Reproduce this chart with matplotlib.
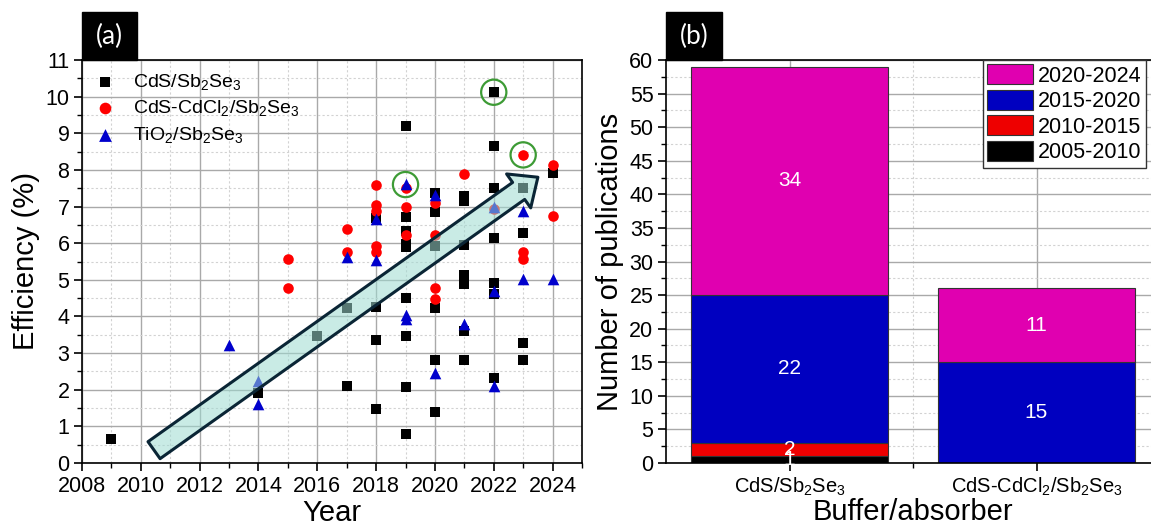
import matplotlib.pyplot as plt
from matplotlib.ticker import MultipleLocator, FixedLocator
from matplotlib.patches import Rectangle

plt.rcParams['font.family'] = 'Liberation Sans'
plt.rcParams['mathtext.fontset'] = 'custom'
plt.rcParams['mathtext.rm'] = 'Liberation Sans'
plt.rcParams['mathtext.default'] = 'regular'

# --- (a) efficiency vs. year for each buffer/absorber stack ---
cds_year = [2009, 2014, 2016, 2017, 2017, 2018, 2018, 2018, 2018,
            2019, 2019, 2019, 2019, 2019, 2019, 2019, 2019, 2019,
            2020, 2020, 2020, 2020, 2020, 2020,
            2021, 2021, 2021, 2021, 2021, 2021, 2021,
            2022, 2022, 2022, 2022, 2022, 2022, 2022,
            2023, 2023, 2023, 2023, 2024]
cds_eff = [0.66, 1.9, 3.47, 4.23, 2.1, 6.7, 4.27, 3.36, 1.48,
           9.2, 6.72, 6.33, 5.98, 5.9, 4.5, 3.47, 2.08, 0.79,
           7.37, 6.86, 5.92, 4.23, 2.8, 1.4,
           7.28, 7.14, 5.95, 5.12, 4.88, 3.59, 2.81,
           10.12, 8.64, 7.5, 6.15, 4.92, 4.6, 2.32,
           7.5, 6.29, 3.28, 2.8, 7.92]

cdcl_year = [2015, 2015, 2017, 2017, 2018, 2018, 2018, 2018, 2018,
             2019, 2019, 2019, 2020, 2020, 2020, 2020, 2021, 2022,
             2023, 2023, 2023, 2024, 2024]
cdcl_eff = [5.58, 4.77, 6.38, 5.75, 7.6, 7.05, 6.88, 5.92, 5.75,
            7.5, 7.0, 6.23, 7.1, 6.23, 4.77, 4.48, 7.88, 6.92,
            8.41, 5.75, 5.58, 8.14, 6.73]

tio2_year = [2013, 2014, 2014, 2017, 2018, 2018, 2019, 2019, 2019,
             2020, 2020, 2021, 2022, 2022, 2022, 2023, 2023, 2024]
tio2_eff = [3.22, 2.25, 1.61, 5.62, 6.65, 5.55, 7.62, 4.05, 3.92,
            7.32, 2.47, 3.8, 7.0, 4.7, 2.1, 6.88, 5.03, 5.03]

# record devices (ringed)
best_year = [2019, 2022, 2023]
best_eff = [7.6, 10.12, 8.41]

# trend arrow end points (year, efficiency)
trend_start = (2010.45, 0.35)
trend_end = (2023.5, 7.8)

# --- (b) publications per stack, split by period ---
stacks = ['CdS/Sb$_2$Se$_3$', 'CdS-CdCl$_2$/Sb$_2$Se$_3$']
periods = ['2005-2010', '2010-2015', '2015-2020', '2020-2024']
n_2005_2010 = [1, 0]
n_2010_2015 = [2, 0]
n_2015_2020 = [22, 15]
n_2020_2024 = [34, 11]
period_colors = ['#000000', '#ee0000', '#0000c0', '#e000b0']

W, H = 1151, 526
fig = plt.figure(figsize=(W / 100, H / 100), dpi=100)


def px_box(x0, y0, x1, y1):
    # pixel box (top-left origin) -> figure fraction [l, b, w, h]
    return [x0 / W, 1 - y1 / H, (x1 - x0) / W, (y1 - y0) / H]


def style_axes(ax):
    for s in ax.spines.values():
        s.set_linewidth(1.2)
        s.set_color('black')
    ax.tick_params(which='major', direction='out', length=6, width=1.2,
                   labelsize=15.5, pad=3)
    ax.tick_params(which='minor', direction='out', length=3.5, width=1.0)
    ax.grid(which='major', color='#a9a9a9', lw=1.0)
    ax.grid(which='minor', color='#d2d2d2', lw=0.8, ls=(0, (2, 2)))
    ax.set_axisbelow(True)


def panel_tag(x0, x1, text):
    fig.patches.append(Rectangle((x0 / W, 1 - 60 / H), (x1 - x0) / W, 48 / H,
                                 transform=fig.transFigure, fc='black',
                                 ec='black'))
    fig.text((x0 + x1) / 2 / W, 1 - 36 / H, text, color='white',
             fontsize=19, family='Lato', ha='center', va='center')


# ---------- panel (a) ----------
ax1 = fig.add_axes(px_box(82, 60, 582, 463))
style_axes(ax1)
ax1.scatter(cds_year, cds_eff, marker='s', s=50, color='black', lw=0,
            label='CdS/Sb$_2$Se$_3$', zorder=3)
ax1.scatter(cdcl_year, cdcl_eff, marker='o', s=58, color='#ff0000', lw=0,
            label='CdS-CdCl$_2$/Sb$_2$Se$_3$', zorder=3)
ax1.scatter(tio2_year, tio2_eff, marker='^', s=70, color='#0000cc', lw=0,
            label='TiO$_2$/Sb$_2$Se$_3$', zorder=3)
ax1.scatter(best_year, best_eff, marker='o', s=330, facecolors='none',
            edgecolors='#3d9b35', lw=1.6, zorder=4)

# translucent trend arrow drawn over the points
ax1.annotate('', xy=trend_end, xytext=trend_start,
             arrowprops=dict(arrowstyle='simple,head_length=17,head_width=30,tail_width=15',
                             mutation_scale=1, fc=(0.62, 0.86, 0.82, 0.55),
                             ec='#0a2535', lw=2.2, shrinkA=0, shrinkB=0),
             zorder=5)

ax1.set_xlim(2008, 2025)
ax1.set_ylim(0, 11)
ax1.xaxis.set_major_locator(FixedLocator(range(2008, 2025, 2)))
ax1.xaxis.set_minor_locator(MultipleLocator(1))
ax1.yaxis.set_major_locator(MultipleLocator(1))
ax1.yaxis.set_minor_locator(MultipleLocator(0.5))
ax1.set_xlabel('Year', fontsize=21, labelpad=2)
ax1.set_ylabel('Efficiency (%)', fontsize=21, labelpad=4)
ax1.legend(loc='upper left', frameon=False, fontsize=14, handletextpad=0.8,
           labelspacing=0.35, borderaxespad=0.2, handlelength=1.2,
           markerscale=1.1)
panel_tag(82, 137, '(a)')

# ---------- panel (b) ----------
ax2 = fig.add_axes(px_box(666, 60, 1160, 463))
style_axes(ax2)
x_pos = [1, 2]
bottom = [0, 0]
layers = [n_2005_2010, n_2010_2015, n_2015_2020, n_2020_2024]
for vals, name, col in zip(layers, periods, period_colors):
    ax2.bar(x_pos, vals, width=0.8, bottom=bottom, color=col,
            edgecolor='#333333', lw=0.8, label=name, zorder=2)
    for xp, v, b0 in zip(x_pos, vals, bottom):
        if v > 0:
            ax2.text(xp, b0 + v / 2, str(v), color='white', fontsize=15,
                     ha='center', va='center', zorder=3)
    bottom = [b0 + v for b0, v in zip(bottom, vals)]

ax2.set_xlim(0.5, 2.5)
ax2.set_ylim(0, 60)
ax2.set_xticks(x_pos)
ax2.set_xticklabels(stacks, fontsize=14.5)
ax2.xaxis.set_minor_locator(FixedLocator([1.5]))
ax2.yaxis.set_major_locator(MultipleLocator(5))
ax2.yaxis.set_minor_locator(MultipleLocator(2.5))
ax2.set_xlabel('Buffer/absorber', fontsize=21, labelpad=0)
ax2.set_ylabel('Number of publications', fontsize=21, labelpad=4)
handles, labels = ax2.get_legend_handles_labels()
leg = ax2.legend(handles[::-1], labels[::-1], loc='upper left',
                 bbox_to_anchor=(0.642, 1.0), borderaxespad=0, fontsize=15.5,
                 fancybox=False, edgecolor='#333333', framealpha=1,
                 handlelength=2.1, handleheight=1.05, labelspacing=0.15,
                 handletextpad=0.25, borderpad=0.2)
leg.get_frame().set_linewidth(1.0)
panel_tag(666, 722, '(b)')

fig.savefig('out.png', dpi=100)
